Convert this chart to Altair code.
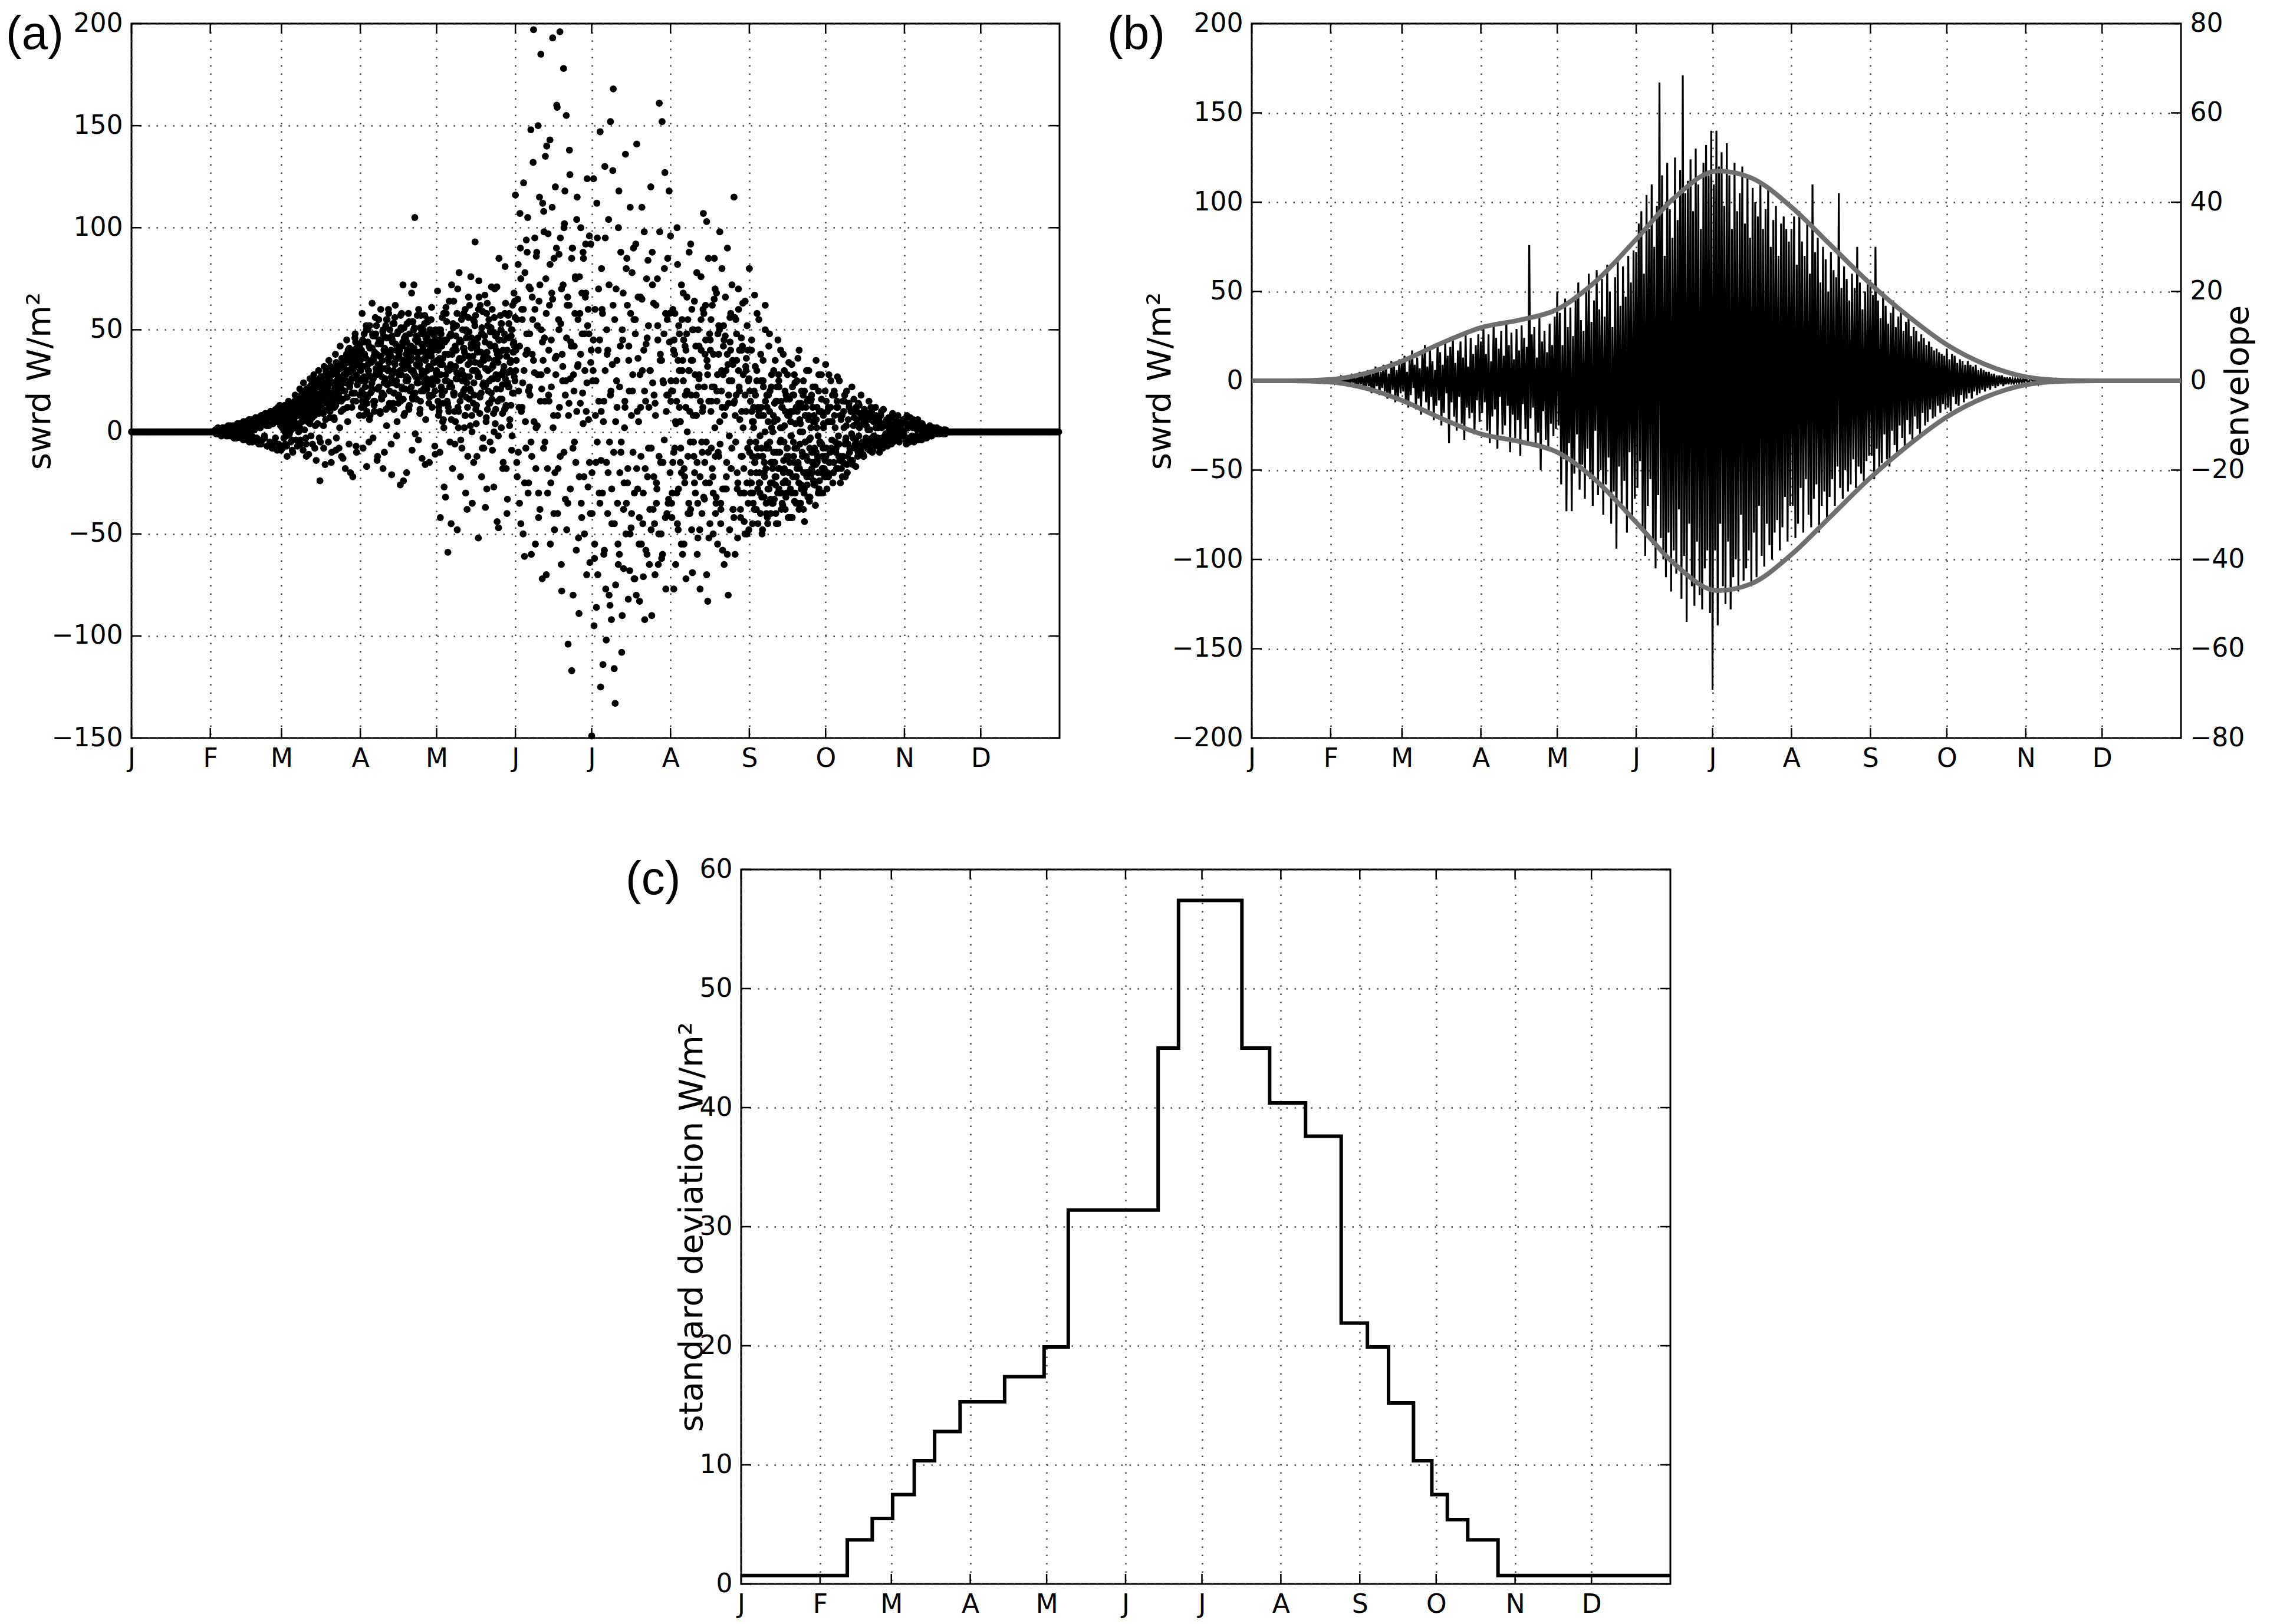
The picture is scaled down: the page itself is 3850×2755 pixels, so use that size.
import json
import altair as alt
import pandas as pd

FONT = "DejaVu Sans"
PANEL_FONT = "Liberation Sans"

MONTH_DAYS = [0, 31, 59, 90, 120, 151, 181, 212, 243, 273, 304, 334]
MONTH_LETTERS = ["J", "F", "M", "A", "M", "J", "J", "A", "S", "O", "N", "D"]
YEAR_END = 365

A_YTICKS = [-150, -100, -50, 0, 50, 100, 150, 200]
B_YTICKS = [-200, -150, -100, -50, 0, 50, 100, 150, 200]
B_ENV_TICKS = [-80, -60, -40, -20, 0, 20, 40, 60, 80]
C_YTICKS = [0, 10, 20, 30, 40, 50, 60]

# ---------------- panel (a): swrd anomaly samples (W/m2), per month ----------------
a_jan = [0] * 99
a_feb = [1, -1, 0, 2, -1, 1, 0, -2, 1, 2, -1, 0, 2, -2, 1, 3, -1, 0, -2, 2, 1, 3, -3, 1,
         2, -3, 4, 1, -2, 3, -1, 4, 2, -4, 3, 0, 5, -3, 2, 4, -5, 1, 6, -2, 3, -4, 5, 2,
         6, -5, 3, 7, -4, 2, -6, 8, 4, 6, -3, 9, 5, -7, 8, 3, -6, 10, 7, -8, 4, 9, -5, 11,
         6, -9, 12, 8, -7, 3]
a_mar = [10, -8, 4, 12, -6, 7, -12, 9, 3, 14, -5, 6, -10, 11, 8, 2, 15, -7, 9, 13, -4, 17, 5, -9,
         12, 20, -3, 8, 16, -11, 22, 6, 10, -6, 18, 25, 3, -14, 14, 24, 9, -24, 19, 11, 27, -8, 16, 6,
         21, 29, -5, 13, 25, -15, 18, 31, 7, 23, -9, 28, 15, 33, 2, 20, -12, 36, 11, 26, -18, 30, 17, 40,
         -6, 24, 38, 12, -22, 33, 19, 44, -10, 27, 35, 8]
a_apr = [35, 12, 58, -8, 27, 44, 18, -17, 50, 30, 6, 41, 22, 63, -3, 37, 15, 48, 28, -12, 55, 33, 9, 45,
         19, -18, 40, 26, 52, 3, 31, 60, 14, 38, -6, 47, 24, 11, 56, 29, -2, 42, 17, 36, -26, 50, 21, 72,
         8, 33, 46, -20, 25, 58, 13, 39, 30, -9, 54, 72, 105, 27, 16, 44, -4, 35, 51, 20, -13, 41, 28, 57,
         6, 37, 23, 48, -15, 31, 55, 12, 43, 26, -7, 50]
a_may = [30, 69, 8, 45, -42, 22, 56, 14, -27, 38, 61, 25, -59, 10, 47, 33, 72, -18, 19, 52, 5, 40, -48, 28,
         78, 15, 44, -8, 36, 58, 21, -30, 49, 12, 66, 27, 3, 41, -35, 55, 18, 93, 30, -12, 46, 74, 9, 34,
         -22, 59, 24, 37, -37, 7, 63, 20, 43, -5, 51, 16, 32, -27, 70, 11, 48, 26, -47, 39, 57, 2, 23, -15,
         45, 81, 13, -40, 29, 53, 6, 35, -9, 62, 19, 42]
a_jun = [116, 35, -22, 82, 12, 107, -45, 60, 24, 122, -61, 5, 94, 40, -30, 71, 18, 148, -12, 55, 197, 29, -55, 86,
         3, 150, 64, -38, 185, 21, 112, -8, 46, 135, -70, 30, 97, 15, 143, -25, 68, 193, 8, -48, 120, 37, 159, -18,
         87, 196, 53, -78, 25, 178, 102, -33, 155, 62, -104, 14, 126, 44, -117, 90, 28, -5, 76, -58, 115, 33, -89, 58,
         100, -42, 19, 85, -50, 66, 10, 124, -27, 48, -64, 92]
a_jul = [-149, 25, 124, -62, 8, -86, 95, 40, -30, 147, -14, 60, -114, 15, 130, -77, 50, -40, 104, -5, 152, -92, 33, 168,
         -116, -133, 70, 12, -55, 118, -20, 88, -108, 45, -67, 2, 136, -35, 62, -82, 20, 110, -47, 78, -10, 55, -72, 92,
         141, -28, 5, -83, 66, -55, 30, -71, 98, -18, 43, -60, 84, 12, -38, 120, -90, 24, 63, -45, 8, -25, 75, -65,
         161, 35, -50, 152, -15, 48, 127, -77, 18, 85, -33, 58]
a_aug = [96, -35, 20, -77, 58, 4, 100, -48, 30, -15, 72, -60, 45, -25, 12, 66, -40, 88, -5, 35, -69, 50, -20, 8,
         78, -52, 26, -77, 40, -10, 107, -33, 62, 103, -83, 15, -45, 55, 22, -30, 85, -12, 68, -55, 38, 5, -38, 80,
         28, -65, 47, -22, 90, 14, -48, 58, -8, 33, 115, -60, 18, -28, 70, 40, -42, 10, 63, -18, -50, 30, 52, -35]
a_sep = [80, -25, 40, -45, 12, 67, -38, 25, -12, 55, -30, 8, -50, 35, -20, 62, -8, -42, 18, 48, -33, 2, -25, 30,
         -15, -40, 22, 45, -28, -5, 15, -35, 38, -18, 10, -30, 28, -12, -42, 5, 33, -22, 18, -8, -35, 25, -15, 40,
         0, -28, 12, -38, 20, -5, 30, -20, 8, -32, 15, -10, 22, -25, 5, 35, -15, -30, 10, -5, 28, -18, 2, -22]
a_oct = [33, -28, 12, -15, 25, 5, -20, 18, -8, 27, -12, 8, -18, 15, 2, -22, 20, -6, 12, -14, 22, -3, 10, -17,
         6, 14, -10, 18, -5, -12, 9, 3, -8, 15, -4, 10, -9, 6, 12, -6, 2, -10, 8, -3, 11, -5, 4, -7,
         7, 1, -6, 9, -4, 5, -2, 8, -5, 3, -1, 6]
a_nov = [6, -4, 8, 2, -5, 4, -2, 6, -3, 5, 1, -4, 3, -2, 4, 0, -3, 2, 1, -1, 3, -2, 0, 2, -1, 1, 0, -1, 1, 0,
         0, 1, -1, 0, 0, 0]
a_dec = [0] * 129

# second (interleaved) set of samples for panel (a)
a2_feb = [0, 1, -1, 1, 0, -1, 2, 1, -1, 0, 2, -2, 1, 3, -1, 2, 0, -3, 3, 1, -2, 4, 2, -3, 1, 5, -2, 3, -4, 2,
          6, -1, 4, -5, 3, 1, 7, -3, 5, -6, 2, 8, -4, 6, -2, 9, 3, -7, 7, -5, 10, 4, -8, 9, -3, 11, 5, -6, 13, -9]
a2_mar = [5, 9, -3, 13, 2, -7, 8, 15, -1, 11, 4, -9, 14, 7, 18, -4, 10, 3, 16, 21, -6, 12, 9, 24, 1, 17, -12, 20,
          6, 14, 26, -2, 19, 11, 28, -8, 15, 23, 4, 30, 13, -5, 25, 18, 9, 32, -16, 21, 14, 27, 35, 7, 19, -10,
          29, 24, 12, 38, -3, 22, 31, 16, 42, 10, 26, -13, 34, 20, 28, 45, 5, 36, 23, -20, 31, 40, 15, 27, 48, -7,
          33, 25, 43, 18]
a2_apr = [30, 18, 45, 8, 38, 25, 52, 14, 33, -5, 41, 27, 20, 48, 35, 10, 56, 29, -14, 43, 22, 37, 60, 16, 31, 47,
          -10, 26, 39, 55, 12, 34, 50, 24, -21, 44, 30, 19, 62, 36, 5, 49, 28, 40, 15, 58, 33, -24, 46, 21, 38, 53,
          26, 11, 42, 35, 68, 17, 29, 51, -1, 39, 24, 45, 32, 9, 57, 27, 48, 20, 36, -16, 43, 30, 54, 14, 40, 25,
          61, 18, 34, 47, -11, 29]
a2_may = [35, 15, 50, -10, 28, 42, 5, 58, 20, -32, 45, 31, 12, 64, 24, -45, 38, 53, 18, -6, 47, 29, 70, 10, 36,
          -22, 55, 25, 41, 2, 60, 17, -38, 33, 49, 21, 76, 8, 44, -15, 30, 57, 13, 39, -52, 27, 62, 19, 48, -3,
          35, 67, 23, -28, 52, 14, 43, 31, 71, -9, 26, 56, 4, 40, -44, 34, 85, 16, 50, 28, -18, 45, 11, 63, 37,
          -33, 22, 58, 30, 47, -2, 39, 68, 25]
a2_jun = [40, -15, 65, 20, -35, 90, 10, 55, -50, 30, 78, -8, 48, 105, -25, 22, 70, -60, 38, 132, 5, 60, -18, 88,
          28, -42, 115, 15, 50, -72, 35, 98, -5, 75, 140, -30, 18, 62, -55, 45, 110, 2, 85, -20, 28, 160, -40, 55,
          12, 95, -65, 38, 72, -10, 118, 25, -48, 66, 8, 138, -28, 42, 90, -80, 20, 58, -15, 104, 32, -52, 76, 14,
          -35, 48, 88, -22, 30, 68, -70, 52, 6, 96, -40, 40]
a2_jul = [-40, 30, -95, 60, -15, 112, -70, 15, 45, -125, 80, -30, 5, -58, 95, -102, 38, -20, 72, -85, 20, -45, 128,
          -10, 55, -75, 25, -35, 100, -60, 42, -5, -90, 68, -25, 12, -50, 85, -18, 35, -68, 58, -40, 20, 90, -30,
          48, -80, 10, 66, -55, 28, -12, 110, -45, 40, -92, 15, 75, -22, 52, -65, 30, -8, 88, -38, 18, -70, 62,
          -28, 45, -50, 98, -15, 35, -60, 24, 80, -42, 10, 55, -35, 118, -20]
a2_aug = [25, -42, 60, -10, 38, -65, 15, 82, -28, 48, 5, -55, 30, 68, -18, 42, -72, 20, 55, -35, 10, 92, -48, 35,
          -5, 64, -30, 18, -60, 50, 28, -22, 76, -40, 12, 58, -15, 45, -70, 32, 85, -25, 40, -8, 62, -50, 22, 70,
          -35, 15, 48, -12, 98, -45, 30, -58, 52, 8, 66, -28, 38, -80, 25, 44, -18, 72, -38, 14, 56, -5, 35, -52,
          60, 20, -30, 46, -12, 28, -44, 64, 10, -25, 40, -48]
a2_sep = [20, -30, 45, -12, 5, -38, 32, -20, 58, -45, 10, -25, 38, -8, -48, 22, -15, 50, -35, 12, -28, 42, -5, -40,
          28, -18, 8, -33, 35, -22, 15, -45, 25, -10, 40, -30, 2, -20, 30, -38, 18, -8, -25, 34, -15, 10, -42, 22,
          -5, 28, -30, 12, -18, 36, -25, 6, -35, 20, -12, 25, -28, 8, -20, 15, -32, 30, -8, -22, 18, -15, 5, -26,
          22, -10, 12, -20, 28, -5, -30, 16, -12, 8, -18, 20]
a2_oct = [15, -20, 28, -10, 5, -25, 20, -5, 12, -18, 25, -12, 8, -15, 18, -3, -20, 14, -8, 10, -14, 16, -6, 4, -12,
          13, -9, 7, -11, 11, -4, -8, 9, -6, 12, -10, 5, -3, 8, -7, 6, -5, 10, -8, 3, -4, 6, -6, 4, -2, 7, -5, 2,
          -3, 5, -4, 3, -2, 4, -1]
a2_nov = [5, -6, 3, -3, 7, -4, 2, -5, 4, -2, 6, -3, 1, -4, 3, -1, 2, -3, 2, -1, 1, -2, 1, 0, -1, 2, 0, -1, 1, 0,
          -1, 0, 1, 0, 0, 0]

# third set of samples (the dense core of the cloud)
a3_mar = [3, 6, 1, 8, 4, -2, 7, 10, 2, 5, 9, -4, 11, 6, 13, 3, 8, 12, 0, 15, 9, 5, 14, 18, 7, 11, -6, 16, 13,
          20, 4, 17, 10, 22, 14, 8, 19, 25, 12, 16, -3, 23, 18, 27, 9, 21, 15, 30, 20, 11, 26, 17, 32, 14, 24,
          29, 6, 21, 34, 18, 27, -8, 31, 22, 36, 16, 28, 33, 25, 38, 12, 30, 41, 24, 35, 19, 37, 28, 46, 15, 33,
          39, 26, 42]
a3_apr = [25, 40, 15, 32, 48, 22, 36, 10, 44, 28, 52, 19, 34, 41, 26, 13, 47, 31, 38, 21, 55, 29, 43, 17, 35,
          50, 24, 39, 11, 46, 30, 58, 20, 37, 27, 45, 14, 53, 33, 40, 23, 49, 18, 36, 57, 28, 42, 16, 51, 31, 25,
          44, 35, 12, 48, 38, 22, 54, 30, 41, 19, 47, 27, 36, 60, 33, 15, 43, 29, 50, 24, 39, 46, 21, 55, 32, 17,
          42, 37, 26, 49, 34, 20, 45]
a3_may = [28, 42, 12, 36, 50, 20, 33, 6, 45, 25, 58, 15, 38, 30, -5, 48, 22, 40, 64, 10, 32, 52, 26, 2, 44, 35,
          18, 56, 28, 41, 8, 50, 24, -12, 37, 62, 20, 46, 30, 14, 54, 34, 4, 43, 27, 66, 17, 39, 51, 23, -8, 47,
          31, 58, 11, 36, 25, 49, 19, 60, 33, 0, 42, 28, 71, 15, 45, 37, 21, 53, 9, 30, 48, 26, -18, 40, 57, 22,
          34, 13, 50, 29, 44, 64]
a3_jun = [30, 55, -10, 42, 75, 12, 60, -25, 38, 88, 20, 48, -5, 66, 35, 95, 2, 52, -30, 72, 28, 44, 108, 15, 58,
          -18, 40, 82, 22, 65, -40, 36, 90, 8, 50, -12, 70, 32, 100, 18, 46, -35, 62, 26, 85, -8, 42, 75, 10, 55,
          -22, 38, 68, 4, 48, 92, 24, 60, -15, 34]
a3_jul = [-20, 45, -55, 25, -5, 70, -35, 10, 58, -60, 30, -15, 40, -80, 18, -28, 62, -45, 5, 35, -65, 22, -10,
          50, -38, 15, 80, -25, 42, -50, 8, 28, -72, 55, -18, 36, -42, 12, 65, -30, 20, -58, 46, -8, 30, -48, 72,
          -22, 14, -35, 52, -12, 38, -62, 25, -4, 58, -40, 18, 44]
a3_aug = [15, -30, 40, -8, 25, -45, 52, 5, -20, 35, -55, 18, 48, -12, 30, -38, 60, 8, -25, 42, -15, 22, -48, 55,
          10, -32, 38, -5, 28, -52, 45, 15, -22, 65, -40, 20, -10, 50, -35, 12, 42, -28, 30, -60, 18, 56, -18, 35,
          -42, 8, 48, -25, 22, -38, 40, 2, -30, 32, -50, 25]
a3_sep = [-10, 15, -25, 5, -35, 20, -15, -5, 30, -28, 8, -20, -40, 12, -12, 25, -32, 0, -18, 18, -45, -8, 10,
          -25, 22, -15, -35, 5, -22, 15, -10, -30, 28, -18, 2, -38, 12, -25, -5, 20, -32, -12, 8, -20, 16, -28, -2,
          -42, 10, -15, 24, -22, -8, -35, 14, -18, 4, -26, -10, 18, -30, -5, 12, -22, -14, 6, -34, -3, 16, -20,
          -10, 8, -26, -16, 2, -12, 20, -24, -6, 10, -18, -8, 4, -14]
a3_oct = [-12, 10, -22, 5, -8, 18, -15, 2, -18, 12, -6, -25, 8, -12, 15, -4, -16, 6, -10, 10, -14, 3, -8, 12,
          -6, -2, 9, -11, 4, -7, 8, -5, 1, -9, 6, -3, 7, -6, 2, -5, 5, -4, 3, -6, 4, -2, 5, -3, 1, -4, 3, -2, 2,
          -3, 2, -1, 2, -2, 1, 0]

# fourth set of samples (the solid spring core and the autumn core)
a4_mar = [2, 5, 8, 0, 11, 4, 7, 13, 3, 9, 1, 12, 6, 15, 10, 4, 14, 8, 17, 2, 11, 19, 6, 13, 16, 9, 21, 5, 14,
          18, 11, 23, 7, 16, 20, 13, 25, 9, 18, 22, 15, 27, 12, 20, 3, 24, 17, 29, 14, 22, 26, 10, 19, 28, 16, 31,
          21, 13, 25, 30, 18, 33, 23, 15, 27, 32, 20, 36, 24, 17, 29, 34, 22, 38, 26, 19, 31, 35, 28, 41, 23, 33,
          37, 30]
a4_apr = [32, 20, 44, 12, 38, 26, 50, 17, 30, 42, 8, 35, 24, 47, 15, 39, 28, 52, 21, 33, 45, 10, 37, 27, 49, 18,
          41, 31, 55, 23, 36, 46, 13, 40, 29, 53, 19, 34, 43, 25, 48, 14, 38, 30, 51, 22, 44, 35, 9, 47, 27, 40,
          32, 54, 20, 42, 36, 16, 50, 28, 45, 33, 57, 24, 39, 11, 48, 30, 43, 21, 53, 35, 26, 46, 38, 18, 50, 31,
          44, 23, 40, 34, 49, 28]
a4_may = [25, 40, 10, 33, 48, 18, 36, 2, 44, 28, 54, 14, 38, 22, 47, 6, 31, 51, 19, 42, 26, 58, 12, 35, 45, -4,
          30, 50, 20, 39, 8, 46, 27, 56, 16, 34, 43, 0, 37, 24, 52, 11, 41, 29, 60, 18, 33, 48, -8, 36, 22, 44, 5,
          39, 30, 55, 14, 42, 26, 49, 9, 35, 47, 21, 38, -2, 45, 28, 53, 16, 40, 32, 58, 12, 37, 24, 46, 3, 34, 50,
          19, 43, 27, 56]
a4_aug = [20, -15, 45, 5, -30, 35, 12, -8, 55, 25, -22, 40, 0, 30, -40, 18, 50, -12, 28, 8, -35, 42, 15, -5, 60,
          22, -25, 35, -10, 48, 10, -18, 38, 2, -32, 28, 52, -6, 20, -28, 45, 12, -15, 33, -2, 40, 25, -38, 15, 55,
          -20, 30, 6, -12, 42, -30, 18, 36, -8, 26]
a4_sep = [-5, -20, 10, -30, 2, -15, 18, -38, -8, 12, -25, -2, 25, -32, -12, 8, -22, 15, -40, -6, 5, -28, 20, -15,
          -35, 0, -10, 14, -26, -45, 6, -18, 22, -30, -4, 12, -36, -14, 3, -24, 16, -8, -42, 8, -20, -2, -30, 18,
          -12, -34, 4, -22, 10, -16, -38, -6, 14, -28, 0, -20, -44, 8, -12, -26, 16, -4, -32, 2, -18, 12, -24, -8,
          -36, 6, -14, -2, -28, 10, -20, -6, -30, 4, -12, -22]
a4_oct = [-8, 5, -15, 12, -4, -20, 8, -10, 15, -2, -14, 6, -22, 10, -6, 3, -12, 14, -8, -1, -16, 7, -4, 10, -10,
          2, -6, 8, -12, 4, -3, 6, -8, 1, -5, 7, -2, -6, 4, -3, 5, -4, 2, -5, 3, -1, 4, -3, 1, -2, 3, -1, 2, -2,
          1, -1, 1, 0, -1, 0]

A_SEGMENTS = [(0, 33, a_jan), (33, 59, a_feb), (59, 90, a_mar), (90, 120, a_apr), (120, 151, a_may),
              (151, 181, a_jun), (181, 212, a_jul), (212, 243, a_aug), (243, 273, a_sep),
              (273, 304, a_oct), (304, 322, a_nov), (322, 365, a_dec)]
A2_SEGMENTS = [(33, 59, a2_feb), (59, 90, a2_mar), (90, 120, a2_apr), (120, 151, a2_may),
               (151, 181, a2_jun), (181, 212, a2_jul), (212, 243, a2_aug), (243, 273, a2_sep),
               (273, 304, a2_oct), (304, 322, a2_nov)]
A3_SEGMENTS = [(59, 90, a3_mar), (90, 120, a3_apr), (120, 151, a3_may), (151, 181, a3_jun),
               (181, 212, a3_jul), (212, 243, a3_aug), (243, 273, a3_sep), (273, 304, a3_oct)]
A4_SEGMENTS = [(59, 90, a4_mar), (90, 120, a4_apr), (120, 151, a4_may),
               (212, 243, a4_aug), (243, 273, a4_sep), (273, 304, a4_oct)]

# ---------------- panel (b): swrd series (W/m2), per month ----------------
b_jan = [0, 0, 0, 0]
b_feb = [1, -1, 2, -2, 1, -1, 3, -2, 2, -1, 2, -3, 3, -2, 4, -1, 3, -4, 2, -3, 5, -2, 4, -5, 3, -4, 6, -3,
         5, -7, 4, -6, 8, -3, 6, -8, 5, -4, 9, -6, 7, -10, 4, -8, 11, -5, 9, -12, 6, -10, 12, -7]
b_mar = [10, -6, 14, -11, 5, -15, 12, -8, 17, -4, 9, -16, 13, -10, 7, -19, 15, -6, 20, -12, 8, -17, 18, -9,
         11, -22, 6, -14, 21, -11, 16, -25, 9, -18, 23, -7, 14, -35, 19, -12, 25, -20, 10, -28, 17, -9, 22, -24,
         13, -33, 27, -15, 8, -21, 24, -18, 15, -30, 20, -11, 26, -23]
b_apr = [22, -18, 30, -12, 15, -28, 26, -35, 11, -20, 31, -16, 24, -38, 18, -9, 28, -30, 14, -25, 33, -14,
         20, -40, 27, -19, 12, -32, 29, -22, 17, -42, 31, -13, 24, -27, 19, -35, 76, -21, 26, -15, 30, -36,
         13, -29, 35, -50, 22, -17, 28, -33, 16, -38, 32, -24, 20, -31, 36, -27]
b_may = [50, -25, 38, -58, 20, -44, 46, -73, 30, -35, 41, -73, 25, -52, 48, -30, 55, -61, 34, -47, 28, -66,
         52, -38, 60, -55, 33, -70, 45, -28, 62, -64, 40, -50, 57, -75, 36, -58, 65, -43, 50, -80, 30, -62,
         58, -94, 68, -48, 42, -71, 64, -56, 47, -85, 70, -40, 55, -77, 73, -66]
b_jun = [72, -60, 88, -45, 95, -82, 60, -98, 104, -70, 85, -55, 110, -92, 75, -105, 98, -64, 167, -88, 115,
         -100, 70, -110, 122, -85, 96, -118, 80, -95, 125, -108, 90, -72, 118, -122, 171, -98, 105, -135, 112,
         -80, 124, -115, 95, -126, 130, -90, 110, -120, 85, -128, 122, -105, 132, -95, 115, -130, 140]
b_jul = [-173, 110, -95, 140, -137, 120, -80, 128, -115, 98, -125, 133, -90, 115, -128, 85, -110, 122, -100,
         95, -118, 105, -75, 120, -112, 88, -105, 115, -95, 80, -115, 108, -85, 100, -110, 92, -70, 112, -98,
         85, -104, 96, -80, 108, -92, 75, -100, 90, -85, 98, -78, 70, -95, 88, -82, 92, -65, 85, -90, 78, -70]
b_aug = [85, -70, 92, -88, 65, -80, 95, -60, 78, -85, 70, -55, 88, -75, 60, -82, 110, -66, 72, -58, 80, -85,
         55, -70, 75, -62, 68, -78, 50, -65, 72, -55, 62, -70, 58, -48, 105, -60, 52, -66, 64, -50, 57, -62,
         45, -58, 60, -44, 52, -60, 75, -48, 55, -52, 40, -56, 50, -45, 54, -42]
b_sep = [55, -42, 48, -55, 75, -38, 45, -50, 35, -46, 50, -30, 42, -44, 32, -48, 38, -28, 45, -36, 30, -40,
         36, -25, 40, -32, 28, -38, 33, -22, 35, -30, 25, -33, 30, -20, 28, -27, 22, -30, 26, -18, 24, -25,
         20, -23, 22, -16, 19, -21, 17, -20, 18, -14, 16, -18, 15, -13, 14, -16]
b_oct = [18, -15, 12, -17, 15, -9, 14, -13, 10, -14, 12, -8, 11, -12, 9, -10, 11, -7, 9, -10, 8, -6, 9, -8,
         6, -7, 7, -5, 6, -6, 5, -4, 5, -5, 4, -3, 4, -4, 3, -3, 3, -2, 3, -3, 2, -2, 2, -2, 2, -1, 1, -2,
         1, -1, 1, -1, 1, -1, 1, -1]
b_nov = [2, -2, 2, -1, 1, -2, 1, -1, 1, -1, 1, -1, 1, -1, 0, 0]
b_dec = [0, 0, 0, 0]

B_SEGMENTS = [(0, 32, b_jan), (32, 59, b_feb), (59, 90, b_mar), (90, 120, b_apr), (120, 151, b_may),
              (151, 181, b_jun), (181, 212, b_jul), (212, 243, b_aug), (243, 273, b_sep),
              (273, 304, b_oct), (304, 320, b_nov), (320, 365, b_dec)]

# envelope (right axis units), read at ~half-month steps
env_days = [0, 15, 31, 45, 59, 74, 90, 106, 120, 135, 151, 166, 183, 196, 212, 227, 243,
            258, 273, 288, 304, 319, 334, 365]
env_vals = [0, 0, 0.3, 1.7, 4.4, 8.3, 11.9, 13.7, 16.0, 22.2, 31.7, 41.0, 47.0, 45.5, 38.9,
            30.6, 21.7, 14.4, 8.1, 3.7, 0.9, 0.1, 0, 0]

# ---------------- panel (c): standard deviation steps ----------------
c_edges = [0, 41.7, 51.5, 59.5, 68, 76, 86, 103.5, 119, 128.5, 163.8, 171.8, 196.7, 207.6,
           221.7, 235.7, 246, 254.3, 264.1, 271.3, 277.4, 285.4, 297.3, 365]
c_vals = [0.7, 3.7, 5.5, 7.5, 10.35, 12.8, 15.3, 17.4, 19.9, 31.4, 45.0, 57.4, 45.0, 40.4,
          37.6, 21.9, 19.9, 15.2, 10.35, 7.5, 5.4, 3.7, 0.7]


def seg_rows(segments, shift=0.0):
    rows = []
    for start, end, vals in segments:
        n = len(vals)
        for i, v in enumerate(vals):
            rows.append({"day": start + (i + shift) * (end - start) / n, "v": v})
    return rows


df_a = pd.DataFrame(seg_rows(A_SEGMENTS) + seg_rows(A2_SEGMENTS, shift=0.5)
                    + seg_rows(A3_SEGMENTS, shift=0.25) + seg_rows(A4_SEGMENTS, shift=0.75))
df_b = pd.DataFrame(seg_rows(B_SEGMENTS) + [{"day": YEAR_END, "v": 0}])
df_env = pd.DataFrame(
    [{"day": d, "e": v, "side": "upper"} for d, v in zip(env_days, env_vals)]
    + [{"day": d, "e": -v, "side": "lower"} for d, v in zip(env_days, env_vals)]
)
df_c = pd.DataFrame({"day": c_edges, "v": c_vals + [c_vals[-1]]})

LABEL_EXPR = f"{json.dumps(MONTH_LETTERS)}[indexof({json.dumps(MONTH_DAYS)}, datum.value)]"
TICK = 17
H = 1212


def xenc():
    return alt.X("day:Q", scale=alt.Scale(domain=[0, YEAR_END], nice=False, zero=False),
                 axis=alt.Axis(values=MONTH_DAYS, labelExpr=LABEL_EXPR, title=None, grid=True,
                               labelPadding=13, labelFlush=False, labelOverlap=False))


def yenc(lo, hi, values, title, extent):
    return alt.Y("v:Q", scale=alt.Scale(domain=[lo, hi], nice=False, zero=False),
                 axis=alt.Axis(values=values, title=title, grid=True, labelPadding=15,
                               minExtent=extent, maxExtent=extent, titlePadding=0,
                               labelFlush=False, labelOverlap=False))


def tick_layers(W, yvals, ydef):
    xt = pd.DataFrame({"day": MONTH_DAYS})
    yt = pd.DataFrame({"v": yvals})
    bx = alt.Chart(xt).mark_rule(color="black", strokeWidth=2.5)
    by = alt.Chart(yt).mark_rule(color="black", strokeWidth=2.5)
    return [
        bx.encode(x=xenc(), y=alt.value(0), y2=alt.value(TICK)),
        bx.encode(x=xenc(), y=alt.value(H), y2=alt.value(H - TICK)),
        by.encode(y=ydef, x=alt.value(0), x2=alt.value(TICK)),
        by.encode(y=ydef, x=alt.value(W - TICK), x2=alt.value(W)),
    ]


def panel_label(text, dx, dy):
    return alt.Chart(pd.DataFrame({"t": [text]})).mark_text(
        font=PANEL_FONT, fontSize=80, align="left", baseline="middle", color="black"
    ).encode(text="t:N", x=alt.value(dx), y=alt.value(dy))


# ---- panel (a)
WA = 1574
ya = yenc(-150, 200, A_YTICKS, "swrd W/m²", 127)
pa_points = alt.Chart(df_a).mark_circle(size=140, color="black", opacity=1).encode(x=xenc(), y=ya)
panel_a = alt.layer(pa_points, *tick_layers(WA, A_YTICKS, ya), panel_label("(a)", -213, 19)).properties(
    width=WA, height=H
)

# ---- panel (b)
WB = 1576
yb = yenc(-200, 200, B_YTICKS, "swrd W/m²", 127)
pb_line = alt.Chart(df_b).mark_line(color="black", strokeWidth=3.2).encode(x=xenc(), y=yb)
inner_b = alt.layer(pb_line, *tick_layers(WB, B_YTICKS, yb), panel_label("(b)", -245, 19))
pb_env = alt.Chart(df_env).mark_line(color="#6f6f6f", strokeWidth=8, interpolate="monotone").encode(
    x=xenc(),
    y=alt.Y("e:Q", scale=alt.Scale(domain=[-80, 80], nice=False, zero=False),
            axis=alt.Axis(orient="right", values=B_ENV_TICKS, title="envelope", grid=False,
                          titleAngle=270, titleBaseline="top", minExtent=69, maxExtent=69,
                          titlePadding=0, labelPadding=15, labelFlush=False, labelOverlap=False)),
    detail="side:N",
)
panel_b = alt.layer(inner_b, pb_env).resolve_scale(y="independent").properties(width=WB, height=H)

# ---- panel (c)
WC = 1576
yc = yenc(0, 60, C_YTICKS, "standard deviation W/m²", 55)
pc_line = alt.Chart(df_c).mark_line(color="black", strokeWidth=6, interpolate="step-after").encode(
    x=xenc(), y=yc
)
panel_c = alt.layer(pc_line, *tick_layers(WC, C_YTICKS, yc), panel_label("(c)", -196, 18)).properties(
    width=WC, height=H
)

spacer = alt.Chart(pd.DataFrame({"s": [0]})).mark_point(opacity=0).encode(
    x=alt.X("s:Q", axis=None), y=alt.Y("s:Q", axis=None)
).properties(width=836, height=10, view=alt.ViewBackground(strokeOpacity=0))

row1 = alt.hconcat(panel_a, panel_b, spacing=73)
row2 = alt.hconcat(spacer, panel_c, spacing=0)

chart = (
    alt.vconcat(row1, row2, spacing=140)
    .properties(padding={"top": 8, "left": 0, "right": 0, "bottom": 0}, background="white")
    .configure(font=FONT)
    .configure_axis(
        labelFont=FONT, titleFont=FONT, labelFontSize=44, titleFontSize=56,
        labelColor="black", titleColor="black", titleFontWeight="normal",
        domain=False, ticks=False, tickSize=0,
        gridColor="#333333", gridDash=[2.5, 11.5], gridWidth=2.5, gridOpacity=0.9,
    )
    .configure_view(stroke="black", strokeWidth=3)
)

chart.save("out.html", embed_options={"renderer": "svg", "actions": False})
